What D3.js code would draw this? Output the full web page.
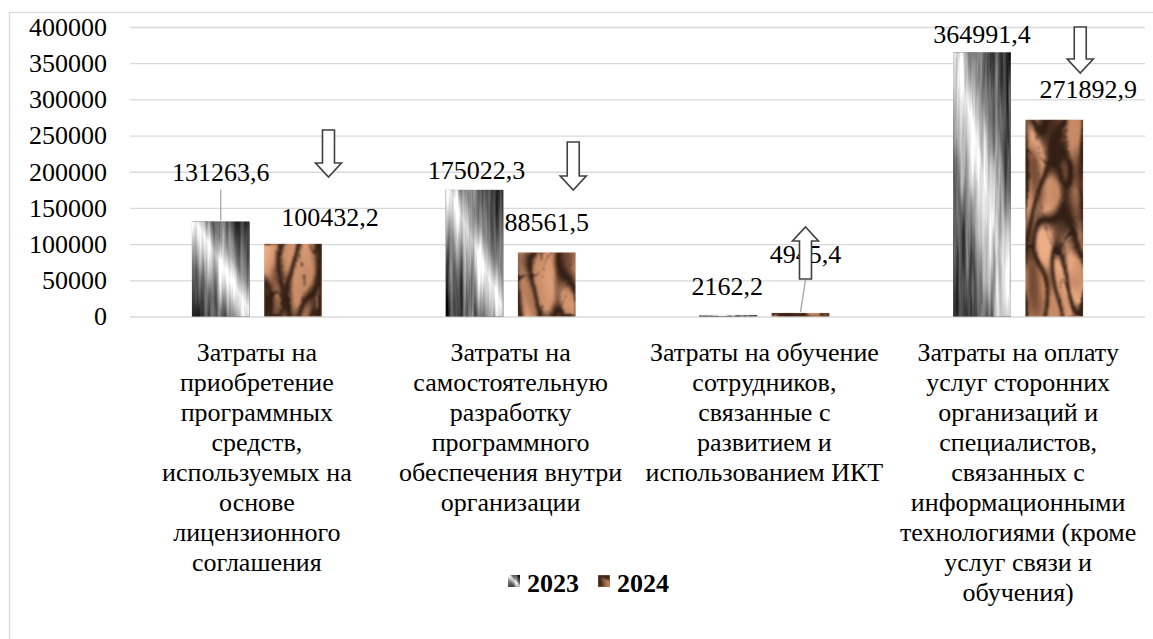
<!DOCTYPE html>
<html lang="ru">
<head>
<meta charset="utf-8">
<title>Затраты на ИКТ, 2023–2024</title>
<script src="https://cdn.jsdelivr.net/npm/d3@7"></script>
<style>
  html, body { margin: 0; padding: 0; background: #fff; }
</style>
</head>
<body>
<svg id="chart" width="1153" height="639"></svg>
<script>
// ---- data ----
const categoryLines = [
  ["Затраты на", "приобретение", "программных", "средств,", "используемых на", "основе", "лицензионного", "соглашения"],
  ["Затраты на", "самостоятельную", "разработку", "программного", "обеспечения внутри", "организации"],
  ["Затраты на обучение", "сотрудников,", "связанные с", "развитием и", "использованием ИКТ"],
  ["Затраты на оплату", "услуг сторонних", "организаций и", "специалистов,", "связанных с", "информационными", "технологиями (кроме", "услуг связи и", "обучения)"]
];
const years = ["2023", "2024"];
const values2023 = [131263.6, 175022.3, 2162.2, 364991.4];
const values2024 = [100432.2, 88561.5, 4945.4, 271892.9];
const yTicks = [0, 50000, 100000, 150000, 200000, 250000, 300000, 350000, 400000];

// ---- layout ----
const W = 1153, H = 639;
const plot = { left: 130, right: 1145, top: 27, bottom: 316.5 };
const fontSize = 26;
const serif = '"Liberation Serif", "Times New Roman", serif';

// label placement relative to the bar's centre (dx) and top (dy = baseline offset)
const labelLayout = {
  "2023": [{dx: 0, dy: -40, leader: true}, {dx: 2, dy: -11}, {dx: -1, dy: -20}, {dx: 0, dy: -9.5}],
  "2024": [{dx: 37, dy: -18}, {dx: 0, dy: -21}, {dx: 5, dy: -50, leader: true}, {dx: 34, dy: -22}]
};
// change arrows: x offset from the 2024 bar centre, vertical extent in px
const arrowLayout = [
  {dx: 35.5, y0: 130, y1: 177},
  {dx: 26.5, y0: 142, y1: 190},
  {dx: 5,    y0: 227, y1: 279},
  {dx: 26,   y0: 27,  y1: 73}
];

const ru = d3.formatLocale({decimal: ",", thousands: "", grouping: [3], currency: ["", ""]});
const fmt = ru.format(".1f");

const svg = d3.select("#chart");
const defs = svg.append("defs");

// brushed-metal fill for 2023
const gMetal = defs.append("linearGradient").attr("id", "metalGrad")
  .attr("x1", 0).attr("y1", 1).attr("x2", 1).attr("y2", 0);
[[0, "#2a2a2a"], [0.28, "#6a6a6a"], [0.46, "#d8d8d8"], [0.53, "#f4f4f4"], [0.66, "#8a8a8a"], [1, "#262626"]]
  .forEach(([o, c]) => gMetal.append("stop").attr("offset", o).attr("stop-color", c));

const fMetal = defs.append("filter").attr("id", "metalTex")
  .attr("x", 0).attr("y", 0).attr("width", 1).attr("height", 1)
  .attr("color-interpolation-filters", "sRGB");
fMetal.append("feTurbulence").attr("type", "fractalNoise")
  .attr("baseFrequency", "0.22 0.01").attr("numOctaves", 3).attr("seed", 4).attr("result", "n");
fMetal.append("feColorMatrix").attr("in", "n").attr("type", "matrix")
  .attr("values", "0.34 0.33 0.33 0 0  0.34 0.33 0.33 0 0  0.34 0.33 0.33 0 0  0 0 0 0 1")
  .attr("result", "g");
fMetal.append("feComposite").attr("in", "SourceGraphic").attr("in2", "g")
  .attr("operator", "arithmetic").attr("k1", 0).attr("k2", 1).attr("k3", 1.1).attr("k4", -0.55)
  .attr("result", "mix");
fMetal.append("feComposite").attr("in", "mix").attr("in2", "SourceAlpha").attr("operator", "in");

// marbled bronze fill for 2024
const fBronze = defs.append("filter").attr("id", "bronzeTex")
  .attr("x", 0).attr("y", 0).attr("width", 1).attr("height", 1)
  .attr("color-interpolation-filters", "sRGB");
fBronze.append("feFlood").attr("flood-color", "#c68a65").attr("result", "base");
fBronze.append("feTurbulence").attr("type", "fractalNoise")
  .attr("baseFrequency", "0.035 0.014").attr("numOctaves", 1).attr("seed", 11).attr("result", "n1");
fBronze.append("feColorMatrix").attr("in", "n1").attr("type", "matrix")
  .attr("values", "0 0 0 0 0.93  0 0 0 0 0.68  0 0 0 0 0.53  4.5 0 0 0 -2.0")
  .attr("result", "light");
fBronze.append("feTurbulence").attr("type", "turbulence")
  .attr("baseFrequency", "0.05 0.016").attr("numOctaves", 1).attr("seed", 5).attr("result", "n2");
fBronze.append("feDisplacementMap").attr("in", "n2").attr("in2", "n1").attr("scale", 28)
  .attr("xChannelSelector", "R").attr("yChannelSelector", "G").attr("result", "n2d");
fBronze.append("feColorMatrix").attr("in", "n2d").attr("type", "matrix")
  .attr("values", "0 0 0 0 0.2  0 0 0 0 0.12  0 0 0 0 0.08  -6 0 0 0 1.15")
  .attr("result", "veins");
fBronze.append("feGaussianBlur").attr("in", "veins").attr("stdDeviation", 1.1).attr("result", "veinsSoft");
fBronze.append("feTurbulence").attr("type", "fractalNoise")
  .attr("baseFrequency", "0.045 0.018").attr("numOctaves", 1).attr("seed", 2).attr("result", "n3");
fBronze.append("feColorMatrix").attr("in", "n3").attr("type", "matrix")
  .attr("values", "0 0 0 0 0.36  0 0 0 0 0.22  0 0 0 0 0.15  -4 0 0 0 1.85")
  .attr("result", "shade");
fBronze.append("feGaussianBlur").attr("in", "shade").attr("stdDeviation", 1.5).attr("result", "shadeSoft");
const mg = fBronze.append("feMerge").attr("result", "mix");
["base", "light", "shadeSoft", "veinsSoft"].forEach(r => mg.append("feMergeNode").attr("in", r));
fBronze.append("feComposite").attr("in", "mix").attr("in2", "SourceAlpha").attr("operator", "in");

const fills = {
  "2023": {fill: "url(#metalGrad)", filter: "url(#metalTex)"},
  "2024": {fill: "#c68a65", filter: "url(#bronzeTex)"}
};

// outer frame
svg.append("rect").attr("x", 9.5).attr("y", 12.5).attr("width", W + 10).attr("height", H + 10)
  .attr("fill", "none").attr("stroke", "#d9d9d9").attr("stroke-width", 1.3);

// scales
const x0 = d3.scaleBand().domain(d3.range(categoryLines.length)).range([plot.left, plot.right]);
const bw = x0.bandwidth();
const x1 = d3.scaleBand().domain(years).range([bw / 2 - 65, bw / 2 + 65]).paddingInner(0.2);
const y = d3.scaleLinear().domain([0, 400000]).range([plot.bottom, plot.top]);

// grid + y labels
const yAxis = d3.axisLeft(y).tickValues(yTicks).tickSize(-(plot.right - plot.left)).tickPadding(23)
  .tickFormat(d3.format("d"));
const ga = svg.append("g").attr("transform", `translate(${plot.left},0)`).call(yAxis);
ga.select(".domain").remove();
ga.selectAll(".tick line").attr("stroke", "#d9d9d9").attr("stroke-width", 1.3);
ga.selectAll(".tick text").attr("font-size", fontSize).attr("fill", "#000")
  .style("font-family", serif);

// bars
const series = { "2023": values2023, "2024": values2024 };
const barData = [];
years.forEach(yr => series[yr].forEach((v, i) => barData.push({yr, i, v})));

svg.append("g").selectAll("rect").data(barData).join("rect")
  .attr("x", d => x0(d.i) + x1(d.yr))
  .attr("y", d => y(d.v))
  .attr("width", x1.bandwidth())
  .attr("height", d => y(0) - y(d.v))
  .attr("fill", d => fills[d.yr].fill)
  .attr("filter", d => fills[d.yr].filter);

// leader lines and value labels
const cx = d => x0(d.i) + x1(d.yr) + x1.bandwidth() / 2;
const lab = d => labelLayout[d.yr][d.i];

svg.append("g").selectAll("line").data(barData.filter(d => lab(d).leader)).join("line")
  .attr("x1", d => cx(d) + lab(d).dx)
  .attr("y1", d => y(d.v) + lab(d).dy + (d.yr === "2023" ? 8 : 17))
  .attr("x2", d => cx(d))
  .attr("y2", d => y(d.v) - 1)
  .attr("stroke", "#a6a6a6").attr("stroke-width", 1.3);

svg.append("g").selectAll("text").data(barData).join("text")
  .attr("x", d => cx(d) + lab(d).dx)
  .attr("y", d => y(d.v) + lab(d).dy)
  .attr("text-anchor", "middle").attr("font-size", fontSize).attr("fill", "#000")
  .style("font-family", serif)
  .text(d => fmt(d.v));

// change arrows (direction from 2023 -> 2024)
function arrowPath(xc, y0, y1, up) {
  const sw = 6, hw = 13, hl = 14;
  if (!up) {
    const hb = y1 - hl;
    return `M${xc - sw},${y0}H${xc + sw}V${hb}H${xc + hw}L${xc},${y1}L${xc - hw},${hb}H${xc - sw}Z`;
  }
  const hb = y0 + hl;
  return `M${xc - sw},${y1}H${xc + sw}V${hb}H${xc + hw}L${xc},${y0}L${xc - hw},${hb}H${xc - sw}Z`;
}
svg.append("g").selectAll("path").data(arrowLayout).join("path")
  .attr("d", (a, i) => {
    const xc = x0(i) + x1("2024") + x1.bandwidth() / 2 + a.dx;
    return arrowPath(xc, a.y0, a.y1, values2024[i] > values2023[i]);
  })
  .attr("fill", "#fff").attr("stroke", "#404040").attr("stroke-width", 1.6)
  .attr("stroke-linejoin", "miter");

// category labels
const cg = svg.append("g");
categoryLines.forEach((lines, i) => {
  const t = cg.append("text").attr("text-anchor", "middle").attr("font-size", fontSize).attr("fill", "#000")
    .style("font-family", serif);
  lines.forEach((ln, k) => {
    t.append("tspan").attr("x", x0(i) + bw / 2).attr("y", 361 + k * 30).text(ln);
  });
});

// legend
const lg = svg.append("g");
let lx = 508;
years.forEach(yr => {
  lg.append("rect").attr("x", lx).attr("y", 575).attr("width", 12).attr("height", 12)
    .attr("fill", fills[yr].fill).attr("filter", fills[yr].filter);
  const t = lg.append("text").attr("x", lx + 19).attr("y", 592)
    .attr("font-size", fontSize).attr("font-weight", "bold").attr("fill", "#000")
    .style("font-family", serif).text(yr);
  lx += 19 + t.node().getComputedTextLength() + 19;
});
</script>
</body>
</html>
